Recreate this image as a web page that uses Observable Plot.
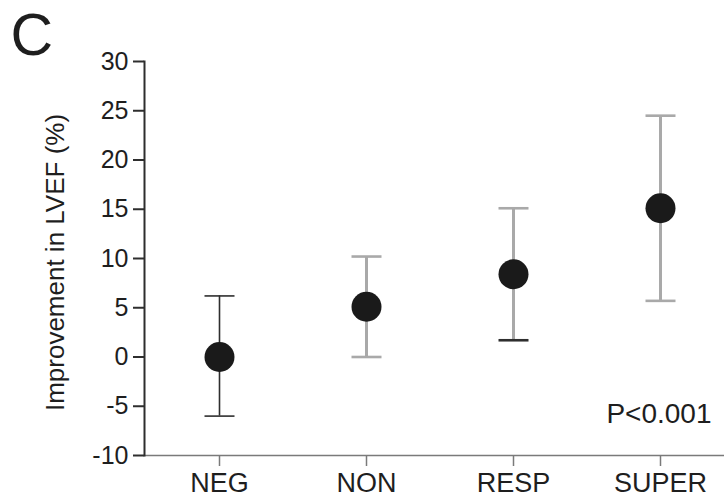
<!DOCTYPE html>
<html>
<head>
<meta charset="utf-8">
<script src="https://cdn.jsdelivr.net/npm/d3@7"></script>
<script src="https://cdn.jsdelivr.net/npm/@observablehq/plot@0.6"></script>
<style>
  body { margin: 0; background: #fff; }
  #chart svg { font-family: Arial, "Liberation Sans", sans-serif; }
</style>
</head>
<body>
<div id="chart"></div>
<script>
// Response groups and the mean improvement in LVEF with its spread
const groups = ["NEG", "NON", "RESP", "SUPER"];
const means  = [0.0, 5.1, 8.4, 15.1];
const lower  = [-6.0, 0.0, 1.7, 5.7];
const upper  = [6.2, 10.2, 15.1, 24.5];
const yTicks = [-10, -5, 0, 5, 10, 15, 20, 25, 30];
const yLabel = "Improvement in LVEF (%)";
const panelLetter = "C";
const pValue = "P<0.001";

const rows = groups.map((g, i) => ({group: g, mean: means[i], lo: lower[i], hi: upper[i]}));
const caps = rows.flatMap(d => [
  {group: d.group, y: d.hi, end: "hi"},
  {group: d.group, y: d.lo, end: "lo"}
]);

const dark = "#2e2e2e";
const grey = "#a9a9a9";
const barColor = g => g === "NEG" ? dark : grey;
const barWidth = g => g === "NEG" ? 1.6 : 3;
const capColor = d => (d.group === "NEG" || (d.group === "RESP" && d.end === "lo")) ? dark : grey;

// horizontal cap symbol; half-width equals the dot radius r
const capSymbol = {
  draw(context, size) {
    const w = Math.sqrt(size / Math.PI);
    context.moveTo(-w, 0);
    context.lineTo(w, 0);
  }
};

const chart = Plot.plot({
  width: 724,
  height: 498,
  marginLeft: 144,
  marginRight: 0,
  marginTop: 61,
  marginBottom: 43,
  style: {fontFamily: 'Arial, "Liberation Sans", sans-serif', fontSize: "25px", color: "#1e1e1e",
          background: "#fff", overflow: "visible"},
  x: {type: "point", domain: groups, range: [218, 661], padding: 0},
  y: {domain: [-10, 30]},
  marks: [
    Plot.axisY({ticks: yTicks, tickSize: 11, tickPadding: 5, tickFormat: d => String(d),
                stroke: dark, strokeWidth: 2, label: null}),
    Plot.axisX({tickSize: 11, tickPadding: 6, stroke: "#7a7a7a", strokeWidth: 1.5, label: null}),
    Plot.ruleY([-10], {stroke: "#7a7a7a", strokeWidth: 1.5}),
    Plot.frame({anchor: "left", stroke: dark, strokeWidth: 2}),
    // error bars
    Plot.ruleX(rows, {x: "group", y1: "lo", y2: "hi", stroke: d => barColor(d.group),
                      strokeWidth: d => barWidth(d.group)}),
    Plot.dot(caps, {x: "group", y: "y", symbol: capSymbol, r: 15, fill: "none", stroke: capColor,
                    strokeWidth: d => d.group === "NEG" ? 1.6 : 2.6}),
    // group means
    Plot.dot(rows, {x: "group", y: "mean", r: 15, fill: "#1a1a1a", stroke: "none"}),
    // y axis title
    Plot.text([yLabel], {frameAnchor: "left", dx: -89, dy: 4, rotate: -90, fontSize: 26, textAnchor: "middle",
                         lineAnchor: "middle", fill: "#1e1e1e", letterSpacing: "1.6px"}),
    // panel letter
    Plot.text([panelLetter], {frameAnchor: "top-left", dx: -134, dy: -25, fontSize: 59, textAnchor: "start",
                              lineAnchor: "middle", fill: "#1e1e1e"}),
    // test result
    Plot.text([pValue], {frameAnchor: "bottom-right", dx: -13, dy: -41, fontSize: 28, textAnchor: "end",
                         lineAnchor: "middle", fill: "#1e1e1e"})
  ]
});

// category labels are a touch larger than the numeric ticks
d3.select(chart).selectAll('g[aria-label="x-axis tick label"]').attr("font-size", 27);
d3.select(chart).selectAll('g[aria-label="y-axis tick label"]').attr("font-size", 25);

document.getElementById("chart").appendChild(chart);
</script>
</body>
</html>
